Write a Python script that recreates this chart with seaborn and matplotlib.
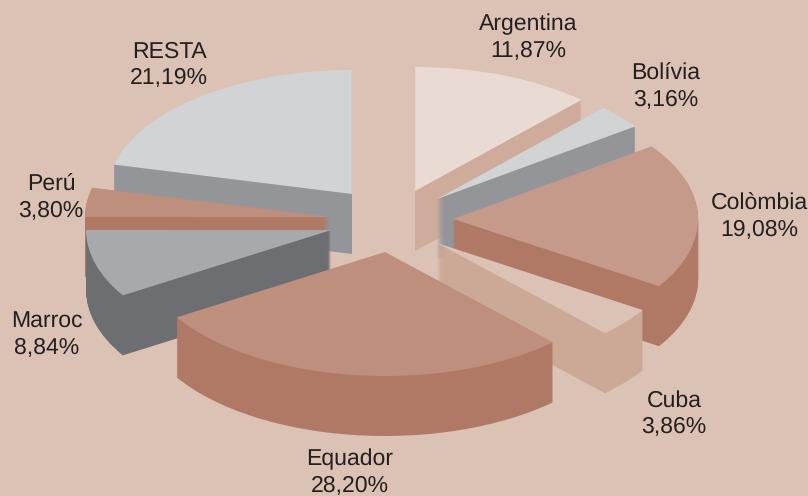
import matplotlib
matplotlib.use('Agg')
import matplotlib.pyplot as plt
import seaborn as sns

# shares per country, clockwise from 12 o'clock
countries = ['Argentina', 'Bolívia', 'Colòmbia', 'Cuba', 'Equador', 'Marroc', 'Perú', 'RESTA']
shares = [11.87, 3.16, 19.08, 3.86, 28.20, 8.84, 3.80, 21.19]

top_colors = ['#E9DBD3', '#D1D3D4', '#C59A8B', '#DBC2B5', '#BE8F7C', '#A7A9AC', '#BE8F7C', '#D1D3D4']
wall_colors = ['#CFAB9C', '#939598', '#AF7965', '#CCA897', '#AF7965', '#6D6E71', '#AF7965', '#939598']
background = '#DBC2B5'

# how far each slice is pulled out of the pie, in pie radii (x, y)
pull_x = [0.127, 0.216, 0.282, 0.216, 0.004, -0.216, -0.220, -0.131]
pull_y = [0.250, 0.185, 0.024, -0.169, -0.242, -0.065, 0.040, 0.226]

# label centres in pixels
label_x = [528, 666, 759, 674, 350, 47, 51, 169]
label_y = [38, 87, 217, 414, 473, 335, 198, 65]

# the pie is squashed by the axis limits, not by a 3d projection
WIDTH, HEIGHT = 808, 496
CENTER_X, CENTER_Y = 384, 222
RADIUS_X, RADIUS_Y = 245, 124
DEPTH = 60

sns.set_theme(style='white')
plt.rcParams['font.family'] = ['Liberation Sans', 'DejaVu Sans']
plt.rcParams['text.hinting'] = 'no_hinting'
plt.rcParams['text.hinting_factor'] = 1

fig = plt.figure(figsize=(WIDTH / 100, HEIGHT / 100), dpi=100, facecolor=background)
ax = fig.add_axes([0, 0, 1, 1])


def draw_slices(colors, drop):
    start = 90
    for share, color, dx, dy in zip(shares, colors, pull_x, pull_y):
        ax.pie([share / 100], colors=[color], startangle=start, counterclock=False,
               normalize=False, radius=1, center=(dx, dy - drop),
               wedgeprops={'linewidth': 0})
        start -= share * 3.6


# stack the walls from the bottom up, then put the top faces on
for px in range(DEPTH, 0, -1):
    draw_slices(wall_colors, px / RADIUS_Y)
draw_slices(top_colors, 0)

ax.set_aspect('auto')
ax.set_xlim(-CENTER_X / RADIUS_X, (WIDTH - CENTER_X) / RADIUS_X)
ax.set_ylim((CENTER_Y - HEIGHT) / RADIUS_Y, CENTER_Y / RADIUS_Y)
ax.set_axis_off()

for name, share, x, y in zip(countries, shares, label_x, label_y):
    value = f'{share:.2f}'.replace('.', ',') + '%'
    fig.text(x / WIDTH, 1 - y / HEIGHT, f'{name}\n{value}', ha='center', va='center',
             fontsize=16.5, color='#231F20', linespacing=1.3)

fig.savefig('out.png', dpi=100, facecolor=background)
